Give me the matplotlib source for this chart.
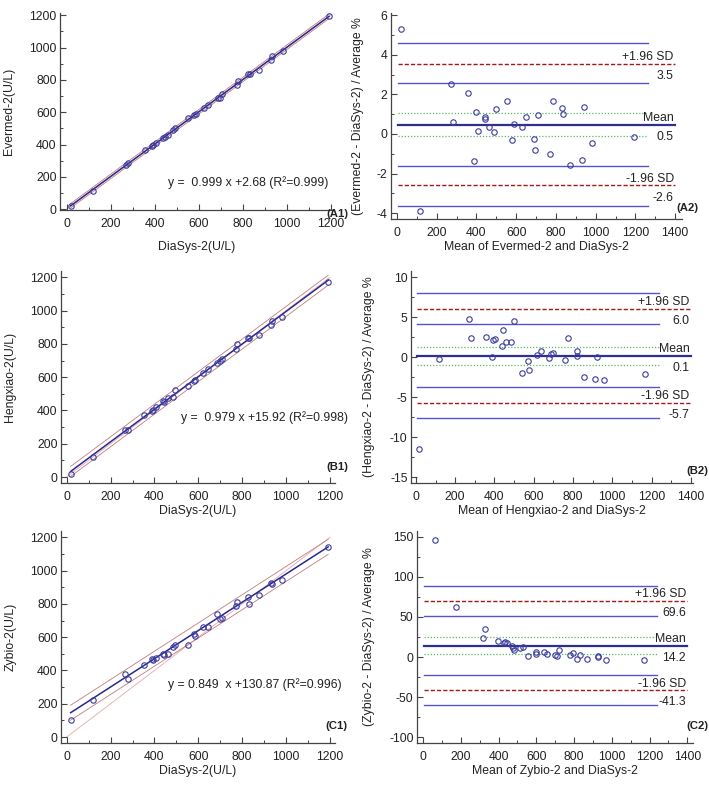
import numpy as np
import matplotlib
matplotlib.use("Agg")
import matplotlib.pyplot as plt
from matplotlib.ticker import MultipleLocator

plt.rcParams['font.family'] = ['Liberation Sans', 'DejaVu Sans']
plt.rcParams['axes.unicode_minus'] = False

# DiaSys-2 results (x of the three regression panels), U/L
diasys = [18, 118, 268, 278, 354, 388, 393, 405, 438, 445, 460, 483, 494, 552, 578,
          586, 622, 643, 687, 697, 707, 773, 777, 826, 832, 875, 930, 934, 982, 1192]
evermed = [21, 113, 275, 283, 364, 388, 398, 408, 442, 448, 462, 488, 504, 562, 584,
           592, 628, 646, 685, 689, 713, 769, 793, 837, 839, 863, 925, 949, 981, 1194]
hengxiao = [18, 123, 285, 283, 371, 397, 403, 421, 457, 449, 473, 483, 521, 544, 578,
            582, 628, 648, 686, 700, 712, 772, 798, 838, 838, 856, 915, 935, 959, 1169]
zybio = [103, 223, 379, 351, 433, 467, 463, 477, 499, 495, 501, 543, 555, 555, 617,
         607, 660, 660, 742, 712, 714, 788, 810, 840, 802, 856, 928, 922, 946, 1141]

# regression results printed on the panels
slopes = [0.999, 0.979, 0.849]
intercepts = [2.68, 15.92, 130.87]
band_half = [14, 30, 45]
eq_texts = ["y =  0.999 x +2.68 (R²=0.999)",
            "y =  0.979 x +15.92 (R²=0.998)",
            "y = 0.849  x +130.87 (R²=0.996)"]

# Bland-Altman: mean of the two methods and % difference
ev_mean = [18, 117, 272, 280, 359, 389, 396, 406, 441, 444, 463, 486, 496, 555, 578,
           590, 627, 647, 687, 692, 709, 769, 785, 830, 837, 870, 929, 941, 981, 1194]
ev_diff = [5.29, -3.88, 2.52, 0.61, 2.05, -1.38, 1.13, 0.13, 0.86, 0.74, 0.34, 0.08,
           1.28, 1.66, -0.32, 0.52, 0.37, 0.84, -0.25, -0.82, 0.94, -1.03, 1.66, 1.33,
           1.01, -1.56, -1.33, 1.36, -0.45, -0.17]
hx_mean = [17, 117, 270, 279, 355, 387, 391, 404, 440, 442, 460, 483, 499, 539, 571,
           578, 617, 637, 680, 686, 700, 761, 776, 819, 822, 855, 911, 923, 958, 1167]
hx_diff = [-11.54, -0.29, 4.79, 2.33, 2.54, -0.04, 2.13, 2.29, 1.38, 3.38, 1.92, 1.83,
           4.54, -1.96, -0.46, -1.67, 0.25, 0.71, -0.17, 0.33, 0.46, -0.38, 2.33, 0.71,
           0.08, -2.5, -2.79, -0.04, -2.88, -2.17]
zy_mean = [63, 175, 317, 326, 395, 429, 436, 446, 473, 476, 483, 515, 529, 557, 600,
           601, 642, 656, 698, 711, 718, 776, 795, 817, 832, 869, 928, 929, 968, 1169]
zy_diff = [146.2, 62.9, 24.0, 35.3, 20.2, 17.7, 18.9, 18.1, 14.3, 11.8, 8.9, 11.8, 12.6,
           1.3, 6.8, 4.3, 6.4, 3.8, 2.1, 1.3, 8.5, 2.6, 5.1, -2.9, 2.1, -2.0, -0.4, 0.8,
           -3.3, -3.7]

# mean, -1.96 SD, +1.96 SD and their 95% CI
ba_stats = [(0.47, -2.6, 3.54), (0.14, -5.7, 6.0), (14.2, -41.3, 69.6)]
ba_ci = [((-0.12, 1.06), (-3.64, -1.6), (2.56, 4.58)),
         ((-0.97, 1.31), (-7.64, -3.72), (4.1, 7.98)),
         ((3.8, 25.2), (-59.6, -22.3), (51.3, 88.6))]

W, H = 709, 786
fig = plt.figure(figsize=(W / 100, H / 100), dpi=100)

def rect(l, t, r, b):
    return [l / W, 1 - b / H, (r - l) / W, (b - t) / H]

txt = '#222222'
fs = 8.8

def style(ax, ymaj, ymin, xmaj):
    for s in ['top', 'right']:
        ax.spines[s].set_visible(False)
    for s in ['left', 'bottom']:
        ax.spines[s].set_color('#444444')
        ax.spines[s].set_linewidth(0.9)
    ax.xaxis.set_major_locator(MultipleLocator(xmaj))
    ax.xaxis.set_minor_locator(MultipleLocator(xmaj / 2))
    ax.yaxis.set_major_locator(MultipleLocator(ymaj))
    ax.yaxis.set_minor_locator(MultipleLocator(ymin))
    ax.tick_params(which='major', direction='in', length=4, width=0.8,
                   labelsize=fs, colors='#444444', labelcolor=txt)
    ax.tick_params(which='minor', direction='in', length=2, width=0.7, colors='#444444')
    ax.tick_params(axis='x', which='major', pad=5.5)
    ax.tick_params(axis='y', which='major', pad=2.5)

# regression panels
left_boxes = [(60, 13, 333, 210), (61, 271, 335, 483), (61, 531, 335, 743)]
left_ylims = [(-5, 1214), (-36, 1238), (-36, 1238)]
left_xlims = [(-30, 1210), (-26, 1223), (-26, 1223)]
left_ylab = ['Evermed-2(U/L)', 'Hengxiao-2(U/L)', 'Zybio-2(U/L)']
left_tags = ['(A1)', '(B1)', '(C1)']
eq_pos = [(0.982, 0.137), (1.047, 0.307), (1.026, 0.274)]
tag_pos = [(1.058, -0.02), (1.047, 0.075), (1.047, 0.08)]
xlab_y = [-0.157, -0.102, -0.102]
ylab_x = [-0.165, -0.163, -0.163]

for i, yv in enumerate([evermed, hengxiao, zybio]):
    ax = fig.add_axes(rect(*left_boxes[i]))
    xs = np.array([min(diasys), max(diasys)])
    fit = slopes[i] * xs + intercepts[i]
    ax.plot([0, 1200], [0, 1200], color='#e8b4b4', lw=0.7, zorder=1)
    ax.plot(xs, fit + band_half[i], color='#c07c7c', lw=0.6, zorder=2)
    ax.plot(xs, fit - band_half[i], color='#c07c7c', lw=0.6, zorder=2)
    ax.plot(xs, fit, color='#28288e', lw=1.1, zorder=3)
    ax.plot(diasys, yv, 'o', mfc='none', mec='#3c3ca0', ms=3.9, mew=0.8,
            clip_on=False, zorder=4)
    ax.set_xlim(*left_xlims[i])
    ax.set_ylim(*left_ylims[i])
    style(ax, 200, 100, 200)
    ax.set_xlabel('DiaSys-2(U/L)', fontsize=fs, color=txt)
    ax.set_ylabel(left_ylab[i], fontsize=fs, color=txt)
    ax.xaxis.set_label_coords(0.5, xlab_y[i])
    ax.yaxis.set_label_coords(ylab_x[i], 0.5)
    ax.text(*eq_pos[i], eq_texts[i], transform=ax.transAxes, ha='right',
            va='center', fontsize=fs, color=txt)
    ax.text(*tag_pos[i], left_tags[i], transform=ax.transAxes, ha='right',
            va='center', fontsize=8.2, fontweight='bold', color=txt)

# Bland-Altman panels
right_boxes = [(391, 13, 682, 219), (411, 271, 693, 483), (417, 531, 693, 743)]
right_xlims = [(-30, 1434), (-25, 1411), (-32, 1430)]
right_ylims = [(-4.3, 6.12), (-15.75, 10.75), (-107, 157)]
right_yticks = [(2, 1), (5, 2.5), (50, 25)]
right_xlab = ['Mean of Evermed-2 and DiaSys-2', 'Mean of Hengxiao-2 and DiaSys-2',
              'Mean of Zybio-2 and DiaSys-2']
right_ylab = ['(Evermed-2 - DiaSys-2) / Average %', '(Hengxiao-2 - DiaSys-2) / Average %',
              '(Zybio-2 - DiaSys-2) / Average %']
right_tags = ['(A2)', '(B2)', '(C2)']
rtag_pos = [(1.055, 0.053), (1.054, 0.057), (1.055, 0.082)]
rylab_x = [-0.093, -0.127, -0.151]
rxlab_y = [-0.107, -0.102, -0.102]

for i, (m, d) in enumerate([(ev_mean, ev_diff), (hx_mean, hx_diff), (zy_mean, zy_diff)]):
    ax = fig.add_axes(rect(*right_boxes[i]))
    mean, lo, hi = ba_stats[i]
    ci_m, ci_lo, ci_hi = ba_ci[i]
    x0, x1, x2 = 5, max(m) + 70, 1400
    for v in list(ci_lo) + list(ci_hi):
        ax.plot([x0, x1], [v, v], color='#5454cc', lw=1.0, zorder=1)
    for v in ci_m:
        ax.plot([x0, x1], [v, v], color='#5cb85c', lw=0.9, ls=(0, (1, 1.5)), zorder=1)
    ax.plot([x0, x2], [mean, mean], color='#2e2e8e', lw=1.6, zorder=2)
    for v in (lo, hi):
        ax.plot([x0, x2], [v, v], color='#a01818', lw=1.0, ls=(0, (3, 1.5)), zorder=2)
    ax.plot(m, d, 'o', mfc='none', mec='#3c3ca0', ms=3.9, mew=0.8, clip_on=False, zorder=4)
    for v, name in [(hi, '+1.96 SD'), (mean, 'Mean'), (lo, '-1.96 SD')]:
        ax.annotate(name, (x2, v), xytext=(-1, 0.5), textcoords='offset points',
                    ha='right', va='bottom', fontsize=fs, color=txt)
        ax.annotate(f'{v:.1f}', (x2, v), xytext=(-1, -4.5), textcoords='offset points',
                    ha='right', va='top', fontsize=fs, color=txt)
    ax.set_xlim(*right_xlims[i])
    ax.set_ylim(*right_ylims[i])
    style(ax, right_yticks[i][0], right_yticks[i][1], 200)
    ax.set_xlabel(right_xlab[i], fontsize=fs, color=txt)
    ax.set_ylabel(right_ylab[i], fontsize=fs, color=txt)
    ax.xaxis.set_label_coords(0.5, rxlab_y[i])
    ax.yaxis.set_label_coords(rylab_x[i], 0.5)
    ax.text(*rtag_pos[i], right_tags[i], transform=ax.transAxes, ha='right',
            va='center', fontsize=8.2, fontweight='bold', color=txt)

fig.savefig('out.png', dpi=100)
